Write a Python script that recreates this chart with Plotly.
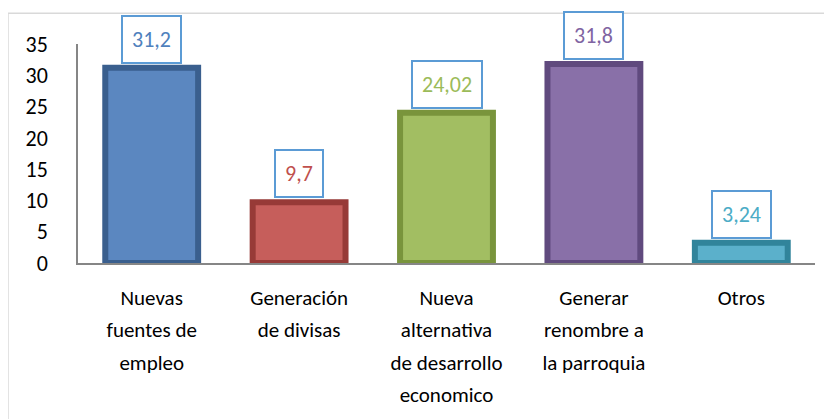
import plotly.graph_objects as go

category_lines = [["Nuevas", "fuentes de", "empleo"],
                  ["Generación", "de divisas"],
                  ["Nueva", "alternativa", "de desarrollo", "economico"],
                  ["Generar", "renombre a", "la parroquia"],
                  ["Otros"]]
values = [31.2, 9.7, 24.02, 31.8, 3.24]
value_labels = ["31,2", "9,7", "24,02", "31,8", "3,24"]
fill_colors = ["#5B87C0", "#C65E5B", "#A2BE62", "#8970A8", "#5BB0CB"]
line_colors = ["#3A5F8E", "#973A37", "#79943C", "#604A7E", "#31849B"]
text_colors = ["#4F81BD", "#C0504D", "#9BBB59", "#8064A2", "#4BACC6"]
y_ticks = [0, 5, 10, 15, 20, 25, 30, 35]

FONT = "Carlito, Lato, sans-serif"

categories = [" ".join(l) for l in category_lines]
tick_text = ["<br>".join('<span style="font-size:21px">%s</span>' % s for s in l)
             for l in category_lines]

fig = go.Figure()
fig.add_trace(go.Bar(
    x=categories, y=values,
    marker=dict(color=fill_colors, line=dict(color=line_colors, width=6)),
    width=0.63,
    hoverinfo="skip",
))

for cat, v, lab, tc in zip(categories, values, value_labels, text_colors):
    fig.add_annotation(
        x=cat, y=v, text=lab, showarrow=False,
        yanchor="bottom", yshift=4,
        font=dict(family=FONT, size=22, color=tc),
        bgcolor="white", bordercolor="#5B9BD5", borderwidth=2, borderpad=9,
    )

fig.add_shape(type="rect", xref="paper", yref="paper",
              x0=-0.095, x1=1.1, y0=-1.0, y1=1.14,
              line=dict(color="#D9D9D9", width=1.5), fillcolor="rgba(0,0,0,0)",
              layer="below")

fig.update_layout(
    width=824, height=411,
    margin=dict(l=70, r=17, t=36, b=156, autoexpand=False),
    paper_bgcolor="white", plot_bgcolor="white",
    showlegend=False,
    font=dict(family=FONT, size=21, color="black"),
    xaxis=dict(showline=True, linecolor="#868686", linewidth=1.5,
               tickvals=categories, ticktext=tick_text,
               ticks="", ticklabelstandoff=10, automargin=False,
               tickfont=dict(family=FONT, size=25, color="black")),
    yaxis=dict(range=[0, 35], tickvals=y_ticks, showline=True,
               linecolor="#868686", linewidth=1.5, showgrid=False,
               zeroline=False, ticks="", ticklabelstandoff=24, automargin=False,
               tickfont=dict(family=FONT, size=22, color="black")),
)

fig.write_html("out.html")
